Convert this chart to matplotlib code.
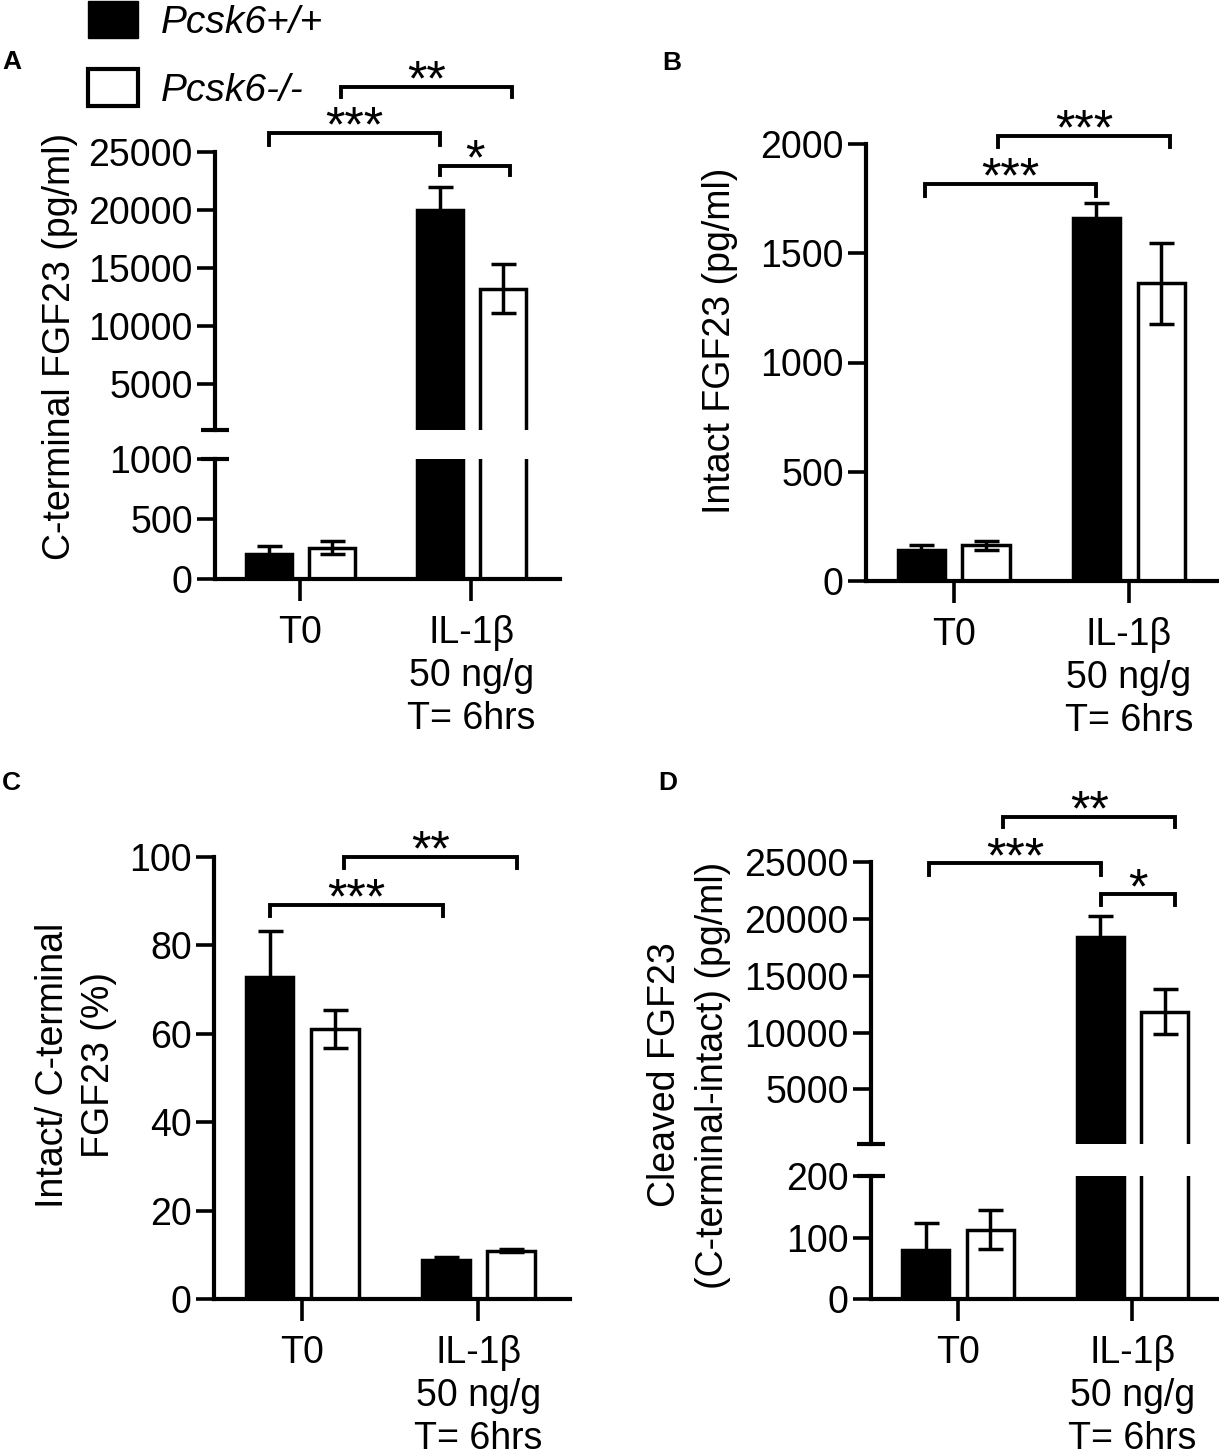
import numpy as np
import matplotlib.pyplot as plt
from matplotlib.patches import Patch

plt.rcParams['font.family'] = ['Liberation Sans', 'DejaVu Sans']

groups = ['T0', 'IL-1β\n50 ng/g\nT= 6hrs']
genotypes = ['Pcsk6+/+', 'Pcsk6-/-']

# panel A : C-terminal FGF23 (pg/ml)
a_wt = [210, 20000]
a_wt_err = [65, 1950]
a_ko = [260, 13200]
a_ko_err = [55, 2100]

# panel B : intact FGF23 (pg/ml)
b_wt = [142, 1660]
b_wt_err = [21, 72]
b_ko = [163, 1362]
b_ko_err = [22, 185]

# panel C : intact / C-terminal (%)
c_wt = [72.8, 8.9]
c_wt_err = [10.5, 0.6]
c_ko = [61.1, 10.9]
c_ko_err = [4.2, 0.3]

# panel D : cleaved FGF23 (pg/ml)
d_wt = [80, 18400]
d_wt_err = [44, 1830]
d_ko = [113, 11830]
d_ko_err = [32, 2000]

# significance marks: (bar from, bar to, label)
a_sig = [('wt0', 'wt1', '***'), ('ko0', 'ko1', '**'), ('wt1', 'ko1', '*')]
b_sig = [('wt0', 'wt1', '***'), ('ko0', 'ko1', '***')]
c_sig = [('wt0', 'wt1', '***'), ('ko0', 'ko1', '**')]
d_sig = [('wt0', 'wt1', '***'), ('ko0', 'ko1', '**'), ('wt1', 'ko1', '*')]

W, H = 1219, 1455
fig = plt.figure(figsize=(W / 100, H / 100), dpi=100)

FS = 27
LW = 3
off = 0.185
bw = 0.27
xlim = (-0.5, 1.52)
x = np.arange(len(groups))


def px_axes(x0, y0, x1, y1):
    return fig.add_axes([x0 / W, 1 - y1 / H, (x1 - x0) / W, (y1 - y0) / H])


def draw_bars(ax, wt, wt_err, ko, ko_err, lo=None):
    # on the upper part of a broken axis only the bars that reach it are drawn
    keep = np.ones(len(x), bool) if lo is None else (np.array(wt) > lo)
    ax.bar(x[keep] - off, np.array(wt)[keep], bw, color='black', edgecolor='black',
           linewidth=2.5, zorder=2)
    ax.errorbar(x[keep] - off, np.array(wt)[keep], yerr=np.array(wt_err)[keep], fmt='none',
                ecolor='black', elinewidth=2.5, capsize=9, capthick=2.5, zorder=3)
    keep = np.ones(len(x), bool) if lo is None else (np.array(ko) > lo)
    ax.bar(x[keep] + off, np.array(ko)[keep], bw, color='white', edgecolor='black',
           linewidth=2.5, zorder=2)
    ax.errorbar(x[keep] + off, np.array(ko)[keep], yerr=np.array(ko_err)[keep], fmt='none',
                ecolor='black', elinewidth=2.5, capsize=9, capthick=2.5, zorder=3)
    ax.set_xlim(*xlim)


def style(ax, yticks, bottom=True):
    for s in ['top', 'right']:
        ax.spines[s].set_visible(False)
    ax.spines['left'].set_linewidth(LW)
    ax.spines['bottom'].set_linewidth(LW)
    ax.set_yticks(yticks)
    ax.set_yticklabels([str(v) for v in yticks], fontsize=FS)
    ax.tick_params(axis='y', direction='out', length=13, width=2.6, pad=3)
    if bottom:
        ax.set_xticks(x)
        ax.set_xticklabels(groups, fontsize=FS, linespacing=1.24)
        ax.tick_params(axis='x', direction='out', length=16, width=2.6, pad=10)
    else:
        ax.spines['bottom'].set_visible(False)
        ax.set_xticks([])


def break_mark(ax, ypos):
    ax.plot([0], [ypos], marker='_', markersize=20, markeredgewidth=LW, color='black',
            transform=ax.transAxes, clip_on=False, zorder=5)


def brackets(ax, sig, levels):
    pos = {'wt0': -off, 'ko0': off, 'wt1': 1 - off, 'ko1': 1 + off}
    for (a, b, txt), (dx1, dx2, y, leg) in zip(sig, levels):
        x1 = pos[a] + dx1
        x2 = pos[b] + dx2
        ax.plot([x1, x1, x2, x2], [y - leg, y, y, y - leg], color='black', lw=2.8,
                clip_on=False, solid_joinstyle='miter')
        ax.annotate(txt, xy=((x1 + x2) / 2, y), xytext=(0, 3), textcoords='offset points',
                    ha='center', va='center', fontsize=36, annotation_clip=False)


# ---------------- A
axA_top = px_axes(215, 152, 560, 430)
axA_bot = px_axes(215, 459, 560, 579)
draw_bars(axA_top, a_wt, a_wt_err, a_ko, a_ko_err, lo=1000)
draw_bars(axA_bot, a_wt, a_wt_err, a_ko, a_ko_err)
axA_top.set_ylim(1000, 25000)
axA_bot.set_ylim(0, 1000)
style(axA_top, [5000, 10000, 15000, 20000, 25000], bottom=False)
style(axA_bot, [0, 500, 1000])
break_mark(axA_top, 0)
break_mark(axA_bot, 1)
brackets(axA_top, a_sig, [(0, 0, 26640, 1035), (0.055, 0.055, 30610, 860),
                          (0.0, 0.04, 23790, 800)])
fig.text(60 / W, 1 - 346 / H, 'C-terminal FGF23 (pg/ml)', rotation=90, fontsize=FS,
         ha='center', va='center')

# ---------------- B
axB = px_axes(866, 144, 1220, 581)
draw_bars(axB, b_wt, b_wt_err, b_ko, b_ko_err)
axB.set_ylim(0, 2000)
style(axB, [0, 500, 1000, 1500, 2000])
brackets(axB, b_sig, [(0.02, 0.0, 1819, 57), (0.07, 0.05, 2037, 50)])
fig.text(720 / W, 1 - 341 / H, 'Intact FGF23 (pg/ml)', rotation=90, fontsize=FS,
         ha='center', va='center')

# ---------------- C
axC = px_axes(214, 857, 570, 1299)
draw_bars(axC, c_wt, c_wt_err, c_ko, c_ko_err)
axC.set_ylim(0, 100)
style(axC, [0, 20, 40, 60, 80, 100])
brackets(axC, c_sig, [(0.0, -0.015, 89.2, 2.6), (0.055, 0.035, 100.0, 2.5)])
fig.text(76 / W, 1 - 1065 / H, 'Intact/ C-terminal\nFGF23 (%)', rotation=90, fontsize=FS,
         ha='center', va='center', multialignment='center', linespacing=1.38)

# ---------------- D
axD_top = px_axes(871, 862, 1223, 1144)
axD_bot = px_axes(871, 1176, 1223, 1299)
draw_bars(axD_top, d_wt, d_wt_err, d_ko, d_ko_err, lo=200)
draw_bars(axD_bot, d_wt, d_wt_err, d_ko, d_ko_err)
axD_top.set_ylim(200, 25000)
axD_bot.set_ylim(0, 200)
style(axD_top, [5000, 10000, 15000, 20000, 25000], bottom=False)
style(axD_bot, [0, 100, 200])
break_mark(axD_top, 0)
break_mark(axD_bot, 1)
brackets(axD_top, d_sig, [(0.02, 0.005, 24877, 1050), (0.075, 0.062, 29000, 880),
                          (0.005, 0.062, 22160, 960)])
fig.text(689 / W, 1 - 1075 / H, 'Cleaved FGF23\n(C-terminal-intact) (pg/ml)', rotation=90,
         fontsize=FS, ha='center', va='center', multialignment='center', linespacing=1.45)

# panel letters
for lab, px, py in [('A', 12, 62), ('B', 672, 63), ('C', 11, 783), ('D', 668, 783)]:
    fig.text(px / W, 1 - py / H, lab, fontsize=19, fontweight='bold', ha='center', va='center')

# legend
handles = [Patch(facecolor='black', edgecolor='black', linewidth=1),
           Patch(facecolor='white', edgecolor='black', linewidth=3)]
fig.legend(handles, genotypes, loc='upper left', bbox_to_anchor=(88 / W, 1 - 1 / H),
           frameon=False, borderpad=0, borderaxespad=0, handlelength=1.29, handleheight=1.1,
           handletextpad=0.57, labelspacing=0.72, prop={'size': 28, 'style': 'italic'})

fig.savefig('out.png', dpi=100)
